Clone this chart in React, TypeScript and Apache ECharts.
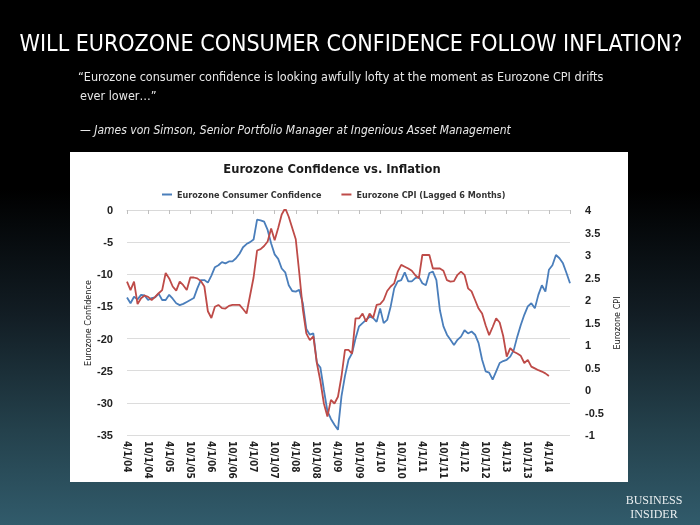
import React, { useEffect, useRef } from 'react';
import * as echarts from 'echarts';

// Eurozone consumer confidence, monthly from 4/1/04 to 10/1/14
const confidence = [
  -13.6, -14.5, -13.5, -13.9, -13.2, -13.3, -14.0, -13.7, -13.6, -13.0,
  -14.0, -14.0, -13.2, -13.8, -14.5, -14.8, -14.6, -14.3, -14.0, -13.7,
  -12.2, -10.9, -10.9, -11.3, -10.2, -8.9, -8.6, -8.1, -8.3, -8.0,
  -8.0, -7.5, -6.8, -5.8, -5.3, -5.0, -4.6, -1.5, -1.6, -1.8,
  -3.1, -5.2, -6.9, -7.6, -9.1, -9.7, -11.7, -12.6, -12.7, -12.4,
  -14.5, -18.5, -19.4, -19.2, -23.8, -24.5, -28.0, -31.3, -32.5, -33.4,
  -34.2, -29.0, -25.8, -23.3, -22.3, -20.0, -18.1, -17.6, -17.1, -16.6,
  -16.8, -17.4, -15.3, -17.6, -17.1, -15.0, -12.2, -11.1, -10.9, -9.7,
  -11.1, -11.1, -10.6, -10.4, -11.4, -11.7, -9.8, -9.6, -10.9, -15.6,
  -18.1, -19.4, -20.2, -21.0, -20.2, -19.7, -18.7, -19.2, -18.9, -19.4,
  -20.7, -23.3, -25.1, -25.3, -26.4, -25.1, -23.8, -23.5, -23.3, -22.8,
  -21.8, -19.7, -17.9, -16.3, -15.0, -14.5, -15.3, -13.2, -11.7, -12.7,
  -9.3, -8.6, -7.0, -7.5, -8.3, -9.8, -11.4,
];

// Eurozone CPI (lagged 6 months), monthly from 4/1/04
const cpiLagged = [
  2.41, 2.22, 2.41, 1.91, 2.04, 2.1, 2.07, 2.0, 2.07, 2.15,
  2.22, 2.6, 2.48, 2.3, 2.21, 2.41, 2.33, 2.22, 2.5, 2.5,
  2.48, 2.42, 2.3, 1.75, 1.6, 1.85, 1.89, 1.82, 1.81, 1.87,
  1.89, 1.89, 1.89, 1.8, 1.7, 2.1, 2.5, 3.1, 3.13, 3.2,
  3.3, 3.59, 3.33, 3.6, 3.9, 4.04, 3.85, 3.6, 3.35, 2.6,
  1.8, 1.26, 1.11, 1.19, 0.6, 0.2, -0.3, -0.59, -0.22, -0.3,
  -0.15, 0.3, 0.89, 0.89, 0.81, 1.59, 1.59, 1.7, 1.52, 1.7,
  1.6, 1.89, 1.91, 2.0, 2.2, 2.3, 2.37, 2.63, 2.78, 2.74,
  2.7, 2.65, 2.55, 2.48, 3.0, 3.0, 3.0, 2.7, 2.7, 2.7,
  2.65, 2.44, 2.41, 2.42, 2.56, 2.63, 2.56, 2.26, 2.19, 2.0,
  1.81, 1.7, 1.44, 1.22, 1.4, 1.59, 1.5, 1.2, 0.74, 0.93,
  0.85, 0.81, 0.76, 0.6, 0.67, 0.52, 0.48, 0.44, 0.41, 0.37,
  0.31,
];

// Month labels 4/1/04 ... 10/1/14 (labels shown every 6 months)
const categories: string[] = [];
for (let i = 0; i < confidence.length; i++) {
  const m = ((3 + i) % 12) + 1;
  const y = 4 + Math.floor((3 + i) / 12);
  categories.push(`${m}/1/${String(y).padStart(2, '0')}`);
}

const seriesNames = ['Eurozone Consumer Confidence', 'Eurozone CPI (Lagged 6 Months)'];

const NARROW = "'Liberation Sans Narrow', 'Arial Narrow', 'DejaVu Sans Condensed', sans-serif";

export default function App() {
  const ref = useRef<HTMLDivElement>(null);
  useEffect(() => {
    const chart = echarts.init(ref.current!, null, { renderer: 'svg' });
    const option = {
      animation: false,
      graphic: [
        {
          type: 'rect', z: -20, silent: true,
          shape: { x: 0, y: 0, width: 700, height: 525 },
          style: {
            fill: new echarts.graphic.LinearGradient(0, 0, 0, 1, [
              { offset: 0, color: '#000000' },
              { offset: 0.36, color: '#000000' },
              { offset: 0.6, color: '#121d24' },
              { offset: 0.82, color: '#24414c' },
              { offset: 1, color: '#315b6b' },
            ]),
          },
        },
        {
          type: 'rect', z: -10, silent: true,
          shape: { x: 70, y: 152, width: 558, height: 330 },
          style: { fill: '#ffffff' },
        },
        {
          type: 'text', z: 10, x: 351, y: 43,
          style: {
            text: 'WILL EUROZONE CONSUMER CONFIDENCE FOLLOW INFLATION?',
            fill: '#ffffff', font: `23px ${NARROW}`, align: 'center', verticalAlign: 'middle',
          },
        },
        {
          type: 'text', z: 10, x: 78, y: 76,
          style: {
            text: '\u201CEurozone consumer confidence is looking awfully lofty at the moment as Eurozone CPI drifts',
            fill: '#e8e8e8', font: `12.5px ${NARROW}`, align: 'left', verticalAlign: 'middle',
          },
        },
        {
          type: 'text', z: 10, x: 80, y: 95,
          style: {
            text: 'ever lower\u2026\u201D',
            fill: '#e8e8e8', font: `12.5px ${NARROW}`, align: 'left', verticalAlign: 'middle',
          },
        },
        {
          type: 'text', z: 10, x: 80, y: 130,
          style: {
            text: '\u2014 James von Simson, Senior Portfolio Manager at Ingenious Asset Management',
            fill: '#e8e8e8', font: `italic 12px ${NARROW}`, align: 'left', verticalAlign: 'middle',
          },
        },
        {
          type: 'text', z: 10, x: 332, y: 168,
          style: {
            text: 'Eurozone Confidence vs. Inflation',
            fill: '#1a1a1a', font: `bold 12.8px ${NARROW}`, align: 'center', verticalAlign: 'middle',
          },
        },
        {
          type: 'text', z: 10, x: 88, y: 323, rotation: Math.PI / 2,
          style: {
            text: 'Eurozone Confidence',
            fill: '#1a1a1a', font: `9px ${NARROW}`, align: 'center', verticalAlign: 'middle',
          },
        },
        {
          type: 'text', z: 10, x: 617, y: 323, rotation: Math.PI / 2,
          style: {
            text: 'Eurozone CPI',
            fill: '#1a1a1a', font: `9px ${NARROW}`, align: 'center', verticalAlign: 'middle',
          },
        },
        {
          type: 'text', z: 10, x: 654, y: 500,
          style: {
            text: 'BUSINESS',
            fill: '#e9eef0', font: "12px 'Liberation Serif', 'DejaVu Serif', serif", align: 'center', verticalAlign: 'middle',
          },
        },
        {
          type: 'text', z: 10, x: 654, y: 514,
          style: {
            text: 'INSIDER',
            fill: '#e9eef0', font: "12px 'Liberation Serif', 'DejaVu Serif', serif", align: 'center', verticalAlign: 'middle',
          },
        },
      ],
      legend: {
        top: 185,
        left: 157,
        itemGap: 20,
        itemWidth: 10,
        itemHeight: 2,
        icon: 'rect',
        textStyle: { fontFamily: NARROW, fontWeight: 'bold', fontSize: 9, color: '#333' },
        data: seriesNames,
      },
      grid: { left: 127, right: 130, top: 210, bottom: 90, containLabel: false },
      xAxis: {
        type: 'category',
        boundaryGap: false,
        data: categories,
        axisLine: { lineStyle: { color: '#d9d9d9' } },
        axisTick: { show: true, interval: 5, length: 4, lineStyle: { color: '#bfbfbf' } },
        axisLabel: {
          interval: 5,
          rotate: -90,
          margin: 6,
          fontSize: 10,
          fontWeight: 'bold',
          fontFamily: NARROW,
          color: '#222',
          formatter: (val: string, idx: number) => (idx === categories.length - 1 ? '' : val),
        },
        splitLine: { show: false },
      },
      yAxis: [
        {
          type: 'value',
          min: -35,
          max: 0,
          interval: 5,
          axisLine: { show: false },
          axisTick: { show: false },
          axisLabel: { margin: 14, fontSize: 11, fontWeight: 'bold', color: '#222', fontFamily: "'Liberation Sans', sans-serif" },
          splitLine: { lineStyle: { color: '#dcdcdc', width: 1 } },
        },
        {
          type: 'value',
          min: -1,
          max: 4,
          interval: 0.5,
          axisLine: { show: false },
          axisTick: { show: false },
          axisLabel: { margin: 15, fontSize: 11, fontWeight: 'bold', color: '#222', fontFamily: "'Liberation Sans', sans-serif" },
          splitLine: { show: false },
        },
      ],
      series: [
        {
          name: seriesNames[0],
          type: 'line',
          data: confidence,
          yAxisIndex: 0,
          showSymbol: false,
          symbol: 'none',
          color: '#4a7ebb',
          lineStyle: { color: '#4a7ebb', width: 1.8 },
        },
        {
          name: seriesNames[1],
          type: 'line',
          data: cpiLagged,
          yAxisIndex: 1,
          showSymbol: false,
          symbol: 'none',
          color: '#be4b48',
          lineStyle: { color: '#be4b48', width: 1.8 },
        },
      ],
    };
    chart.setOption(option as any);
    return () => chart.dispose();
  }, []);
  return <div ref={ref} style={{ position: 'fixed', left: 0, top: 0, width: 700, height: 525 }} />;
}
